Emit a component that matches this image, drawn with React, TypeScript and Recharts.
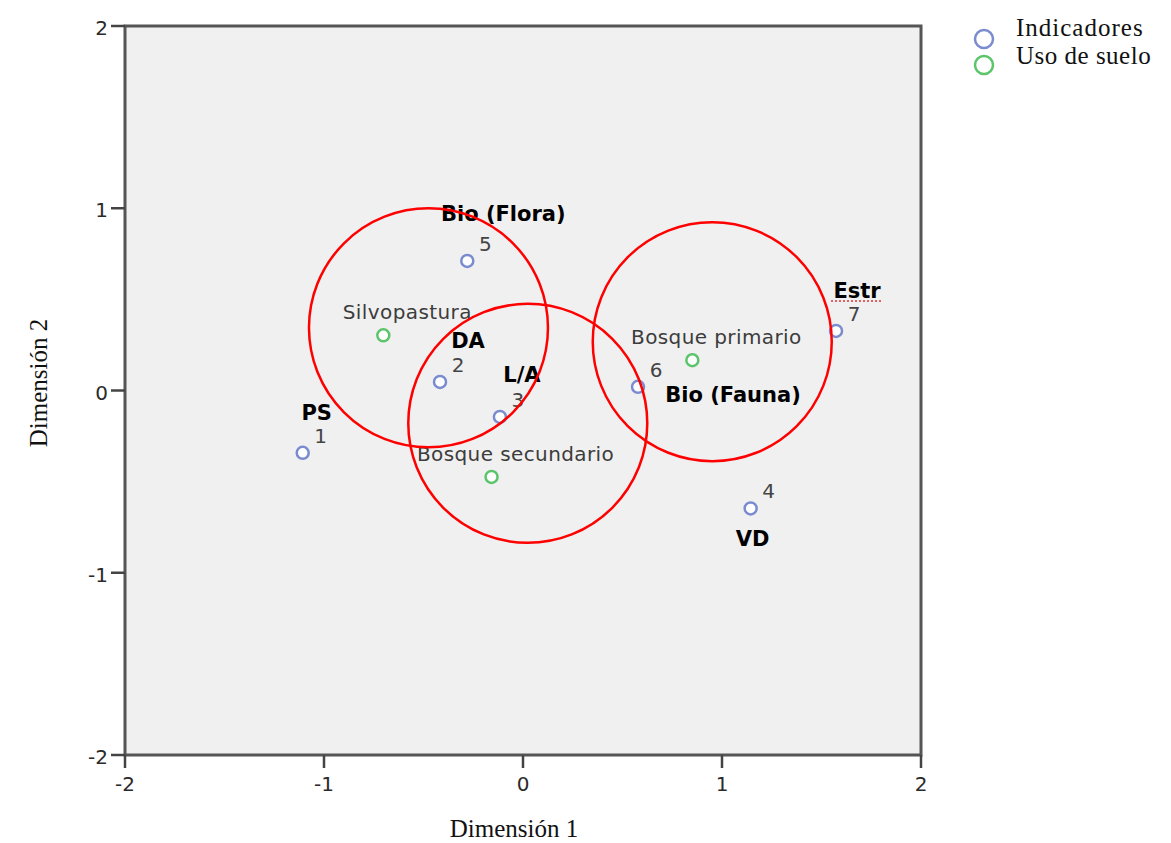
import React from "react";
import { ReferenceArea, ReferenceDot, Scatter, ScatterChart, XAxis, YAxis } from "recharts";

// Indicadores (puntos azules)
const indicatorIds = ["1", "2", "3", "4", "5", "6", "7"];
const indicatorNames = ["PS", "DA", "L/A", "VD", "Bio (Flora)", "Bio (Fauna)", "Estr"];
const indicatorDim1 = [-1.107, -0.417, -0.116, 1.144, -0.28, 0.578, 1.573];
const indicatorDim2 = [-0.342, 0.047, -0.145, -0.647, 0.711, 0.02, 0.327];

// Uso de suelo (puntos verdes)
const landUseNames = ["Silvopastura", "Bosque secundario", "Bosque primario"];
const landUseDim1 = [-0.702, -0.158, 0.851];
const landUseDim2 = [0.303, -0.474, 0.166];

// agrupaciones marcadas en rojo
const groupDim1 = [-0.475, 0.024, 0.951];
const groupDim2 = [0.344, -0.18, 0.268];

const xTicks = [-2, -1, 0, 1, 2];
const yTicks = [-2, -1, 0, 1, 2];

const indicators = indicatorIds.map((id, i) => ({
  id,
  name: indicatorNames[i],
  x: indicatorDim1[i],
  y: indicatorDim2[i],
}));
const landUse = landUseNames.map((name, i) => ({ name, x: landUseDim1[i], y: landUseDim2[i] }));
const groups = groupDim1.map((x, i) => ({ x, y: groupDim2[i] }));

const BLUE = "#7b8bd0";
const GREEN = "#5cc46a";
const SANS = "'DejaVu Sans', sans-serif";
const SERIF = "'Liberation Serif', 'Times New Roman', serif";

// where each bold indicator name sits relative to its point
const nameOffset: Record<string, [number, number]> = {
  PS: [14, -40],
  DA: [28, -41],
  "L/A": [22, -42],
  VD: [2, 31],
  "Bio (Flora)": [36, -47],
  "Bio (Fauna)": [95, 8],
  Estr: [21, -40],
};

const XTick = ({ x, y, payload }: any) => (
  <text x={x} y={y + 7} textAnchor="middle" dominantBaseline="hanging" fontFamily={SANS} fontSize={20} fill="#2a2a2a">
    {payload.value}
  </text>
);

const YTick = ({ x, y, payload }: any) => (
  <text x={x} y={y + 2} textAnchor="end" dominantBaseline="central" fontFamily={SANS} fontSize={20} fill="#2a2a2a">
    {payload.value}
  </text>
);

const IndicatorShape = (props: any) => {
  const { cx, cy, payload } = props;
  if (cx == null || cy == null) return null;
  const [dx, dy] = nameOffset[payload.name] || [0, -30];
  return (
    <g>
      <circle cx={cx} cy={cy} r={6} fill="#fff" stroke={BLUE} strokeWidth={2.5} />
      <text x={cx + 18} y={cy - 17} textAnchor="middle" dominantBaseline="central" fontFamily={SANS} fontSize={20} fill="#444">
        {payload.id}
      </text>
      <text x={cx + dx} y={cy + dy} textAnchor="middle" dominantBaseline="central" fontFamily={SANS} fontWeight="bold" fontSize={21} fill="#000">
        {payload.name}
      </text>
      {payload.name === "Estr" && (
        <line x1={cx + dx - 26} x2={cx + dx + 26} y1={cy + dy + 10} y2={cy + dy + 10} stroke="#e03030" strokeWidth={1.5} strokeDasharray="2 2" />
      )}
    </g>
  );
};

const LandUseShape = (props: any) => {
  const { cx, cy, payload } = props;
  if (cx == null || cy == null) return null;
  return (
    <g>
      <circle cx={cx} cy={cy} r={6} fill="#fff" stroke={GREEN} strokeWidth={2.5} />
      <text x={cx + 24} y={cy - 23} textAnchor="middle" dominantBaseline="central" fontFamily={SANS} fontSize={20} letterSpacing={0.4} fill="#3c3c3c">
        {payload.name}
      </text>
    </g>
  );
};

export default function App() {
  return (
    <div
      style={{
        position: "relative",
        width: 1163,
        height: 835,
        marginLeft: -2,
        marginTop: -2,
        borderTop: "2px solid #dcdcdc",
        borderLeft: "2px solid #dcdcdc",
        background: "#fff",
      }}
    >
      <ScatterChart width={1160} height={835} margin={{ top: 18, right: 247, bottom: 48, left: 57 }}>
        <XAxis
          type="number"
          dataKey="x"
          domain={[-2, 2]}
          ticks={xTicks}
          height={40}
          axisLine={false}
          tickLine={{ stroke: "#444", strokeWidth: 2.5 }}
          tickSize={13}
          tickMargin={1}
          tick={<XTick />}
          allowDataOverflow
        />
        <YAxis
          type="number"
          dataKey="y"
          domain={[-2, 2]}
          ticks={yTicks}
          width={60}
          axisLine={false}
          tickLine={{ stroke: "#444", strokeWidth: 2.5 }}
          tickSize={14}
          tickMargin={3}
          tick={<YTick />}
          allowDataOverflow
        />
        <ReferenceArea x1={-2} x2={2} y1={-2} y2={2} fill="#f0f0f0" fillOpacity={1} stroke="#555" strokeWidth={3} />
        <Scatter name="Indicadores" data={indicators} shape={IndicatorShape} isAnimationActive={false} />
        <Scatter name="Uso de suelo" data={landUse} shape={LandUseShape} isAnimationActive={false} />
        {groups.map((g, i) => (
          <ReferenceDot key={i} x={g.x} y={g.y} r={119.5} fill="none" fillOpacity={0} stroke="#ff0000" strokeWidth={2.5} />
        ))}

        {/* axis titles */}
        <text x={506} y={829} textAnchor="middle" fontFamily={SERIF} fontSize={25} fill="#111">
          Dimensión 1
        </text>
        <text x={39} y={375} textAnchor="middle" fontFamily={SERIF} fontSize={25} fill="#111" transform="rotate(-90, 39, 375)">
          Dimensión 2
        </text>

        {/* legend */}
        <circle cx={976} cy={31} r={9} fill="#fff" stroke={BLUE} strokeWidth={2.5} />
        <circle cx={976} cy={57} r={9} fill="#fff" stroke={GREEN} strokeWidth={2.5} />
        <text x={1008} y={28} fontFamily={SERIF} fontSize={25} letterSpacing={1} fill="#111">
          Indicadores
        </text>
        <text x={1008} y={56} fontFamily={SERIF} fontSize={25} letterSpacing={0.5} fill="#111">
          Uso de suelo
        </text>
      </ScatterChart>
    </div>
  );
}
